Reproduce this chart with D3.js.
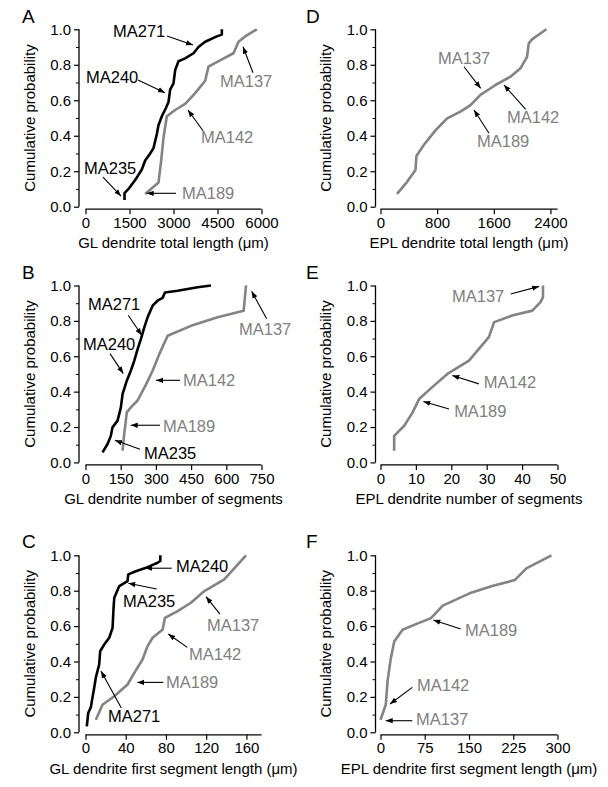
<!DOCTYPE html>
<html><head><meta charset="utf-8">
<script src="https://cdn.jsdelivr.net/npm/d3@7"></script>
<style>body{margin:0;background:#fff}svg{display:block}</style>
</head><body>
<svg id="c" width="608" height="787"></svg>
<script>
// ---------- data ----------
const yTicks = [0, 0.2, 0.4, 0.6, 0.8, 1.0];
const yMinor = [0.1, 0.3, 0.5, 0.7, 0.9];

// Panel A: GL dendrite total length
const aTicks = [0, 1500, 3000, 4500, 6000];
const aBlackX = [1330,1330,1466,1693,1920,2034,2205,2318,2432,2489,2602,2738,2830,2886,3000,3057,3170,3398,3682,3852,4080,4477,4648,4648];
const aBlackY = [0.038,0.077,0.10,0.15,0.21,0.26,0.30,0.33,0.41,0.46,0.51,0.555,0.59,0.66,0.695,0.77,0.82,0.836,0.865,0.90,0.93,0.96,0.97,1.0];
const aGrayX = [2034,2489,2580,2659,2773,3057,3398,3739,4080,4193,4648,5045,5216,5443,5841];
const aGrayY = [0.072,0.137,0.26,0.39,0.51,0.545,0.58,0.64,0.71,0.79,0.83,0.865,0.93,0.96,1.0];

// Panel B: GL dendrite number of segments
const bTicks = [0, 150, 300, 450, 600, 750];
const bBlackX = [72.6,93.9,108,115,136.6,150.7,158,176,193,208,222,236,250.5,264.6,286,307,328.6,338.5,392.6,478,535];
const bBlackY = [0.057,0.104,0.15,0.198,0.236,0.311,0.386,0.462,0.518,0.575,0.64,0.697,0.763,0.82,0.886,0.914,0.93,0.96,0.97,0.99,1.0];
const bGrayX = [158,165,176,193,222,257.5,286,314.5,350,449.5,563,674,684];
const bGrayY = [0.066,0.16,0.283,0.311,0.35,0.44,0.518,0.612,0.716,0.772,0.82,0.857,1.0];

// Panel C: GL dendrite first segment length
const cTicks = [0, 40, 80, 120, 160];
const cBlackX = [1.3,2.7,5.3,8.6,10.3,13.6,14.6,18.6,23.6,26.9,27.9,28.6,33.6,41.8,42.5,50,61.7,71.7,74.4,74.4];
const cBlackY = [0.034,0.109,0.142,0.25,0.31,0.383,0.458,0.496,0.534,0.59,0.703,0.76,0.826,0.854,0.892,0.91,0.933,0.958,0.968,1.0];
const cGrayX = [10.3,16.9,28.6,41.8,48.5,56.7,61.7,66.7,76.7,79,91.6,104.8,118.2,138,159.6];
const cGrayY = [0.071,0.156,0.204,0.27,0.336,0.411,0.487,0.534,0.581,0.647,0.685,0.732,0.798,0.864,1.0];

// Panel D: EPL dendrite total length
const dTicks = [0, 800, 1600, 2400];
const dGrayX = [234,376,494,508,611,776,941,1129,1271,1412,1624,1835,1977,2070,2094,2140,2343];
const dGrayY = [0.072,0.14,0.207,0.286,0.348,0.43,0.498,0.536,0.573,0.63,0.686,0.733,0.78,0.845,0.92,0.943,1.0];

// Panel E: EPL dendrite number of segments
const eTicks = [0, 10, 20, 30, 40, 50];
const eGrayX = [3.86,3.86,6.7,9.0,10.9,15.1,18.9,25,27.8,30.6,32.1,37.2,42.9,45.2,45.9,45.9];
const eGrayY = [0.066,0.15,0.207,0.28,0.358,0.434,0.5,0.575,0.642,0.708,0.793,0.83,0.858,0.906,0.934,1.0];

// Panel F: EPL dendrite first segment length
const fTicks = [0, 75, 150, 225, 300];
const fGrayX = [0,9,11.9,17.5,23.3,37.4,60.1,85.6,105.5,150.9,190.6,227.5,247.2,289.8];
const fGrayY = [0.071,0.156,0.288,0.419,0.513,0.579,0.611,0.645,0.716,0.785,0.828,0.86,0.926,1.0];

// Annotations: [label, colour key, textX, textY, arrowFromX, arrowFromY, arrowToX, arrowToY] (data units)
const aNotes = [
  ["MA271","k",937,0.954, 2778,0.962, 3665,0.911],
  ["MA240","k",17,0.697, 1790,0.714, 2710,0.643],
  ["MA235","k",-51,0.184, 597,0.167, 1210,0.060],
  ["MA137","g",4585,0.676, 5710,0.755, 5369,0.902],
  ["MA142","g",3938,0.359, 4006,0.428, 3494,0.545],
  ["MA189","g",3290,0.043, 3085,0.0755, 2086,0.0755]
];
const bNotes = [
  ["MA271","k",10.7,0.860, 182.4,0.832, 239.5,0.719],
  ["MA240","k",-10.7,0.634, 104.4,0.615, 161,0.502],
  ["MA235","k",249.3,0.021, 232.2,0.0746, 125.7,0.125],
  ["MA137","g",654,0.722, 772,0.812, 708,0.967],
  ["MA142","g",415.5,0.432, 402.7,0.464, 300.4,0.464],
  ["MA189","g",330,0.172, 317.5,0.21, 192.6,0.21]
];
const cNotes = [
  ["MA240","k",90,0.907, 85.7,0.927, 59.2,0.927],
  ["MA235","k",37.3,0.706, 70.8,0.81, 42.6,0.842],
  ["MA271","k",22.4,0.0565, 35.6,0.137, 15.4,0.346],
  ["MA137","g",120.8,0.574, 133.7,0.668, 119.8,0.766],
  ["MA142","g",102.9,0.408, 101.2,0.48, 82.3,0.555],
  ["MA189","g",80,0.249, 77.4,0.282, 51.5,0.282]
];
const dNotes = [
  ["MA137","g",812,0.804, 1179,0.789, 1415,0.667],
  ["MA142","g",1787,0.472, 2051,0.549, 1744,0.686],
  ["MA189","g",1363,0.338, 1532,0.414, 1321,0.545]
];
const eNotes = [
  ["MA137","g",20.2,0.909, 36.8,0.952, 44.8,0.995],
  ["MA142","g",29.2,0.419, 27.8,0.444, 20.3,0.491],
  ["MA189","g",20.8,0.255, 19.35,0.302, 12.1,0.344]
];
const fNotes = [
  ["MA189","g",143.2,0.546, 135.9,0.584, 89.5,0.634],
  ["MA142","g",61.9,0.235, 53.9,0.254, 16.1,0.16],
  ["MA137","g",60.2,0.041, 53.9,0.0655, 8.8,0.0655]
];

// ---------- layout ----------
const FONT = "'Liberation Sans', Arial, Helvetica, sans-serif";
const GRAY = "#808080";
const cols = [{ax:79, x0:85.5, x1:261.5, letterX:22, ylabX:35},
              {ax:375.5, x0:380.5, x1:557.5, letterX:306, ylabX:331}];
const rows = [{y0:206.7, y1:29.3, letterY:23},
              {y0:462.4, y1:285.5, letterY:279},
              {y0:732.3, y1:555.3, letterY:548}];

const panels = [
  {L:"A", c:0, r:0, dom:6000, ticks:aTicks, black:[aBlackX,aBlackY], gray:[aGrayX,aGrayY], notes:aNotes, title:"GL dendrite total length (\u03BCm)"},
  {L:"B", c:0, r:1, dom:750, ticks:bTicks, black:[bBlackX,bBlackY], gray:[bGrayX,bGrayY], notes:bNotes, title:"GL dendrite number of segments"},
  {L:"C", c:0, r:2, dom:175, ticks:cTicks, black:[cBlackX,cBlackY], gray:[cGrayX,cGrayY], notes:cNotes, title:"GL dendrite first segment length (\u03BCm)"},
  {L:"D", c:1, r:0, dom:2500, ticks:dTicks, black:null, gray:[dGrayX,dGrayY], notes:dNotes, title:"EPL dendrite total length (\u03BCm)"},
  {L:"E", c:1, r:1, dom:50, ticks:eTicks, black:null, gray:[eGrayX,eGrayY], notes:eNotes, title:"EPL dendrite number of segments"},
  {L:"F", c:1, r:2, dom:300, ticks:fTicks, black:null, gray:[fGrayX,fGrayY], notes:fNotes, title:"EPL dendrite first segment length (\u03BCm)"}
];

const svg = d3.select("#c");
const defs = svg.append("defs");
defs.append("marker").attr("id","arr").attr("viewBox","0 0 10 10")
  .attr("refX",10).attr("refY",5).attr("markerWidth",7).attr("markerHeight",7)
  .attr("markerUnits","userSpaceOnUse").attr("orient","auto")
  .append("path").attr("d","M0,1.2L10,5L0,8.8z").attr("fill","#000");

panels.forEach(p => {
  const C = cols[p.c], R = rows[p.r];
  const x = d3.scaleLinear().domain([0,p.dom]).range([C.x0,C.x1]);
  const y = d3.scaleLinear().domain([0,1]).range([R.y0,R.y1]);
  const g = svg.append("g");

  // y axis
  const ya = g.append("g").attr("transform",`translate(${C.ax},0)`)
    .call(d3.axisLeft(y).tickValues(yTicks).tickFormat(d3.format(".1f")).tickSize(5).tickPadding(3));
  g.append("g").attr("transform",`translate(${C.ax},0)`)
    .call(d3.axisLeft(y).tickValues(yMinor).tickFormat("").tickSize(3))
    .select(".domain").remove();
  // x axis
  const xa = g.append("g").attr("transform",`translate(0,${R.y0+2.5})`)
    .call(d3.axisBottom(x).tickValues(p.ticks).tickFormat(d3.format("d")).tickSize(5).tickPadding(3));
  [ya, xa].forEach(a => {
    a.select(".domain").attr("stroke-width",1.3);
    a.selectAll(".tick line").attr("stroke-width",1.2);
    a.selectAll("text").attr("font-family",FONT).attr("font-size",15).attr("fill","#000");
  });
  ya.select(".domain").attr("d",`M0,${R.y0}V${R.y1}`);
  xa.select(".domain").attr("d",`M${C.x0},0H${C.x1}`);
  g.selectAll(".tick line, .domain").attr("stroke","#000");

  // axis titles
  g.append("text").attr("x",(C.x0+C.x1)/2).attr("y",R.y0+41.5).attr("text-anchor","middle")
    .attr("font-family",FONT).attr("font-size",15).text(p.title);
  g.append("text").attr("transform",`translate(${C.ylabX},${(R.y0+R.y1)/2}) rotate(-90)`)
    .attr("text-anchor","middle").attr("font-family",FONT).attr("font-size",15).text("Cumulative probability");
  // panel letter
  g.append("text").attr("x",C.letterX).attr("y",R.letterY).attr("font-family",FONT)
    .attr("font-size",19).text(p.L);

  const line = d3.line().x(d=>x(d[0])).y(d=>y(d[1]));
  const pts = s => s[0].map((v,i)=>[v,s[1][i]]);
  g.append("path").datum(pts(p.gray)).attr("d",line).attr("fill","none")
    .attr("stroke",GRAY).attr("stroke-width",2.6).attr("stroke-linejoin","round");
  g.append("path").datum(pts(p.gray)).attr("d",line).attr("fill","none")
    .attr("stroke","#9c9c9c").attr("stroke-width",0.8).attr("stroke-dasharray","1 2");
  if (p.black) {
    g.append("path").datum(pts(p.black)).attr("d",line).attr("fill","none")
      .attr("stroke","#000").attr("stroke-width",2.6).attr("stroke-linejoin","round");
  }

  // annotations
  p.notes.forEach(n => {
    g.append("line").attr("x1",x(n[4])).attr("y1",y(n[5])).attr("x2",x(n[6])).attr("y2",y(n[7]))
      .attr("stroke","#000").attr("stroke-width",1.1).attr("marker-end","url(#arr)");
    g.append("text").attr("x",x(n[2])).attr("y",y(n[3])).attr("font-family",FONT)
      .attr("font-size",16.5).attr("fill",n[1]==="k"?"#000":GRAY).text(n[0]);
  });
});
</script>
</body></html>
